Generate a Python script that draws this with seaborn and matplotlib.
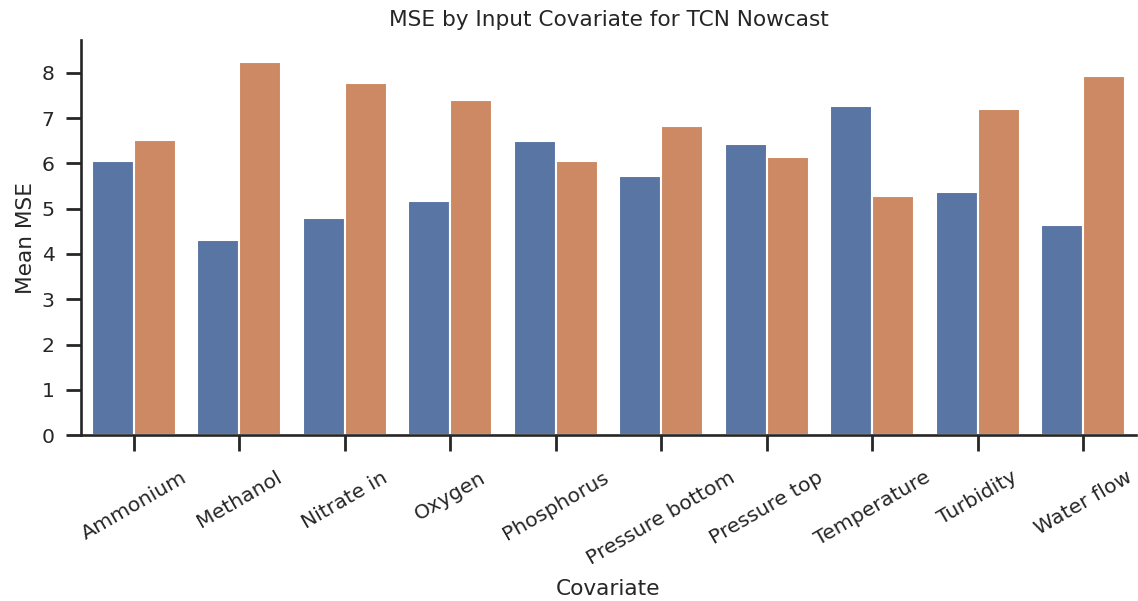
import matplotlib
matplotlib.use("Agg")
import matplotlib.pyplot as plt
import seaborn as sns
import pandas as pd

covariates = ["Ammonium", "Methanol", "Nitrate in", "Oxygen", "Phosphorus",
              "Pressure bottom", "Pressure top", "Temperature", "Turbidity", "Water flow"]
mse_series_a = [6.06, 4.32, 4.80, 5.17, 6.50, 5.72, 6.42, 7.27, 5.36, 4.63]
mse_series_b = [6.52, 8.25, 7.78, 7.40, 6.06, 6.83, 6.14, 5.29, 7.20, 7.93]
series_names = ["Excluded", "Included"]

df = pd.DataFrame({
    "Covariate": covariates * 2,
    "Mean MSE": mse_series_a + mse_series_b,
    "Variant": [series_names[0]] * len(covariates) + [series_names[1]] * len(covariates),
})

sns.set_theme(style="ticks", context="talk")
plt.rcParams.update({
    "xtick.labelsize": 14.7,
    "ytick.labelsize": 14.7,
    "axes.labelsize": 15.6,
    "axes.titlesize": 15.6,
    "xtick.major.size": 11.5,
    "ytick.major.size": 11,
    "xtick.major.width": 2,
    "ytick.major.width": 2,
    "xtick.major.pad": 12,
    "ytick.major.pad": 8,
    "axes.linewidth": 1.9,
})

fig = plt.figure(figsize=(11.38, 6.01), dpi=100)
ax = fig.add_axes([0.0712, 0.276, 0.927, 0.657])
sns.barplot(data=df, x="Covariate", y="Mean MSE", hue="Variant", ax=ax, legend=False)
ax.set_ylim(0, 8.72)
ax.set_title("MSE by Input Covariate for TCN Nowcast", pad=10)
ax.set_xlabel("Covariate", labelpad=8)
ax.set_ylabel("Mean MSE")
plt.setp(ax.get_xticklabels(), rotation=30)
sns.despine(ax=ax)
fig.savefig("out.png", dpi=100)
